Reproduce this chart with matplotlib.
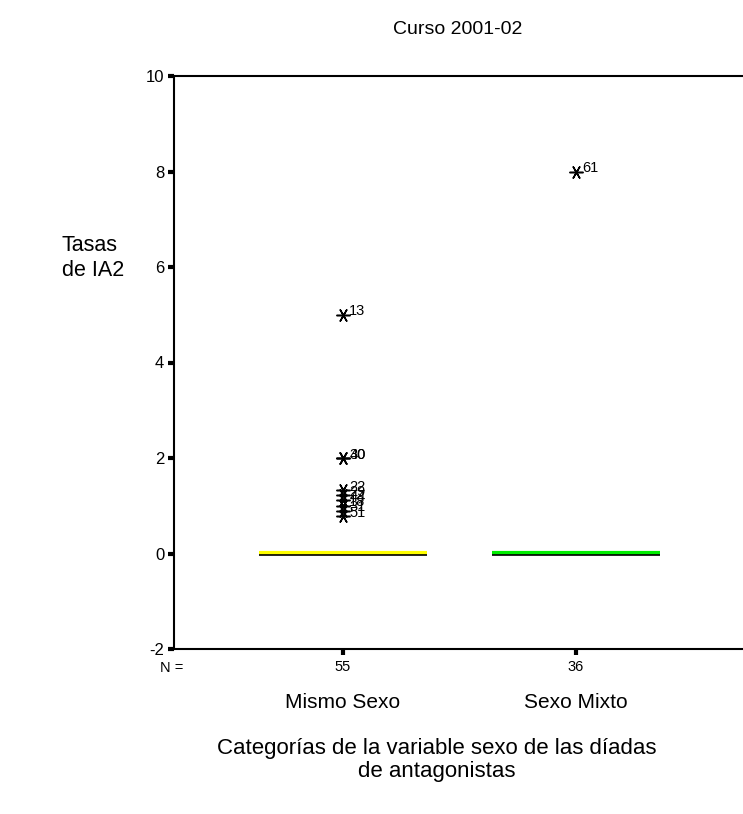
import matplotlib
matplotlib.use("Agg")
import matplotlib.pyplot as plt
import numpy as np

plt.rcParams['font.family'] = ['Liberation Sans', 'DejaVu Sans']

# Data
categories = ["Mismo Sexo", "Sexo Mixto"]
group_n = [55, 36]
medians = [0.0, 0.0]
q1 = [0.0, 0.0]
q3 = [0.0, 0.0]
box_colors = ["#ffff00", "#00ee00"]

outliers_mismo = [5.0, 2.0, 2.0, 1.33, 1.22, 1.11, 1.0, 0.9, 0.78]
outlier_ids_mismo = ["13", "30", "40", "22", "29", "44", "18", "31", "51"]
outliers_mixto = [8.0]
outlier_ids_mixto = ["61"]

yticks = [-2, 0, 2, 4, 6, 8, 10]

fig = plt.figure(figsize=(7.43, 8.14), dpi=100)
ax = fig.add_axes([174 / 743, 165 / 814, 1.0, 573 / 814])
ax.set_xlim(0.275, 0.275 + 743 / 233)
ax.set_ylim(-2, 10)

positions = np.arange(1, len(categories) + 1)
half_w = 0.36

for pos, med, lo, hi, col in zip(positions, medians, q1, q3, box_colors):
    # collapsed box: coloured fill band above the black outline
    ax.plot([pos - half_w, pos + half_w], [med + 0.02, med + 0.02], color=col, lw=3.0,
            zorder=2, solid_capstyle="butt")
    ax.plot([pos - half_w, pos + half_w], [lo - 0.03, lo - 0.03], color="black", lw=1.2,
            zorder=3, solid_capstyle="butt")

star = (6, 2, 90)
for pos, vals, ids in [(positions[0], outliers_mismo, outlier_ids_mismo),
                       (positions[1], outliers_mixto, outlier_ids_mixto)]:
    ax.plot([pos] * len(vals), vals, linestyle="none", marker=star, markersize=10,
            markeredgewidth=1.1, color="black", zorder=4)
    for v, lab in zip(vals, ids):
        ax.annotate(lab, (pos, v), xytext=(4.5, 2.5), textcoords="offset points",
                    fontsize=10.5, va="center", ha="left", color="black")

ax.spines["right"].set_visible(False)
for side in ["left", "bottom", "top"]:
    ax.spines[side].set_linewidth(1.5)

ax.set_yticks(yticks)
ax.set_yticklabels([str(t) for t in yticks], fontsize=12)
ax.tick_params(axis="y", direction="out", length=4, width=3, pad=3)
ax.set_xticks(positions)
ax.set_xticklabels([str(n) for n in group_n], fontsize=10.5)
ax.tick_params(axis="x", direction="out", length=4, width=3, pad=4)

fig.text(160 / 743, 1 - 668 / 814, "N =", fontsize=10.5, ha="left", va="center")
for pos, cat in zip(positions, categories):
    xf = ax.transData.transform((pos, 0))[0] / fig.bbox.width
    fig.text(xf, 1 - 703 / 814, cat, fontsize=15, ha="center", va="center")

fig.text(458 / 743, 1 - 30 / 814, "Curso 2001-02", fontsize=14, ha="center", va="center")
fig.text(62 / 743, 1 - 258 / 814, "Tasas\nde IA2", fontsize=15.5, ha="left", va="center",
         linespacing=1.2)
fig.text(437 / 743, 1 - 760 / 814, "Categorías de la variable sexo de las díadas\nde antagonistas",
         fontsize=16, ha="center", va="center", linespacing=1.1)

fig.savefig("out.png", dpi=100)
